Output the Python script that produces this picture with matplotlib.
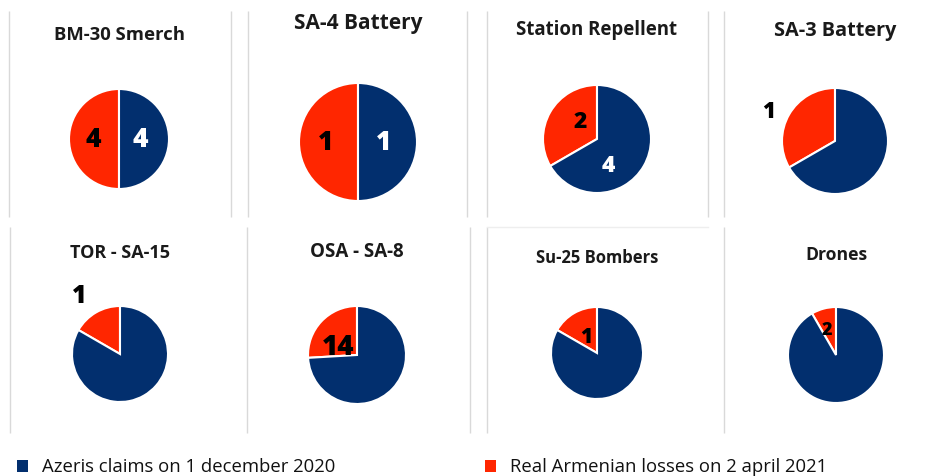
import numpy as np
import matplotlib
matplotlib.use("Agg")
import matplotlib.pyplot as plt
from matplotlib.patches import Rectangle

plt.rcParams['font.family'] = ['Open Sans', 'DejaVu Sans']

# ---- data ----
categories = ["BM-30 Smerch", "SA-4 Battery", "Station Repellent", "SA-3 Battery",
              "TOR - SA-15", "OSA - SA-8", "Su-25 Bombers", "Drones"]
azeri_claims = [4, 1, 4, 2, 5, 40, 5, 22]
real_losses = [4, 1, 2, 1, 1, 14, 1, 2]
show_azeri_label = [True, True, True, False, False, False, False, False]
series_names = ["Azeris claims on 1 december 2020", "Real Armenian losses on 2 april 2021"]

# ---- style / layout ----
BLUE = "#022f6e"
RED = "#ff2600"
GRID = "#d9d9d9"
W, H = 940, 477

centers = [(119, 140), (358, 143), (597, 140), (835, 142),
           (120, 355), (357, 356), (597, 354), (836, 356)]
radii = [50, 59, 54, 53, 48, 49, 46, 48]
title_y = [35, 24, 30, 31, 253, 252, 258, 255]
title_w = [130, 128, 161, 122, 100, 94, 122, 62]
red_dist = [0.52, 0.54, 0.45, 1.38, 1.48, 0.43, 0.44, 0.57]
red_shift = [0, 0, -17, 6, 5, 19, 3, 4]
blue_dist = [0.42, 0.44, 0.52]
blue_shift = [0, 0, -37]
num_size = [19, 19, 16.5, 16, 18, 20, 15, 13]
legend_w = [295, 317]

fig = plt.figure(figsize=(W / 100, H / 100), dpi=100)
ax = fig.add_axes([0, 0, 1, 1])
fig.canvas.draw()
renderer = fig.canvas.get_renderer()

def Y(y):
    return H - y

def fit_text(t, target):
    bb = t.get_window_extent(renderer)
    t.set_fontsize(t.get_fontsize() * target / bb.width)

for i, cat in enumerate(categories):
    cx, cy = centers[i]
    r = radii[i]
    vals = [real_losses[i], azeri_claims[i]]
    wedges, _ = ax.pie(vals, colors=[RED, BLUE], startangle=90, counterclock=True,
                       center=(cx, Y(cy)), radius=r,
                       wedgeprops=dict(edgecolor="white", linewidth=1.5))
    w = wedges[0]
    ang = np.deg2rad((w.theta1 + w.theta2) / 2 + red_shift[i])
    d = red_dist[i] * r
    ax.text(cx + d * np.cos(ang), Y(cy) + d * np.sin(ang), str(real_losses[i]),
            ha="center", va="center", fontsize=num_size[i], fontweight=800, color="black")
    if show_azeri_label[i]:
        w = wedges[1]
        ang = np.deg2rad((w.theta1 + w.theta2) / 2 + blue_shift[i])
        d = blue_dist[i] * r
        ax.text(cx + d * np.cos(ang), Y(cy) + d * np.sin(ang), str(azeri_claims[i]),
                ha="center", va="center", fontsize=num_size[i], fontweight=800, color="white")
    t = ax.text(cx, Y(title_y[i]), cat, ha="center", va="center", fontsize=12,
                fontweight="bold", color="#1a1a1a")
    fit_text(t, title_w[i])

# panel separators
row1_x = [9, 231, 248, 467, 487, 708, 724]
row2_x = [10, 247, 470, 487, 724]
for x in row1_x:
    ax.plot([x, x], [Y(12), Y(218)], color=GRID, lw=1, solid_capstyle="butt")
for x in row2_x:
    ax.plot([x, x], [Y(228), Y(434)], color=GRID, lw=1, solid_capstyle="butt")
ax.plot([487, 708], [Y(228), Y(228)], color="#eeeeee", lw=1)

# legend
leg_x = [17, 485]
for k, name in enumerate(series_names):
    col = BLUE if k == 0 else RED
    ax.add_patch(Rectangle((leg_x[k], Y(473)), 11, 12, facecolor=col, edgecolor="none"))
    t = ax.text(leg_x[k] + 25, Y(467), name, ha="left", va="center", fontsize=12.5,
                color="#111111")
    fit_text(t, legend_w[k])

ax.set_xlim(0, W)
ax.set_ylim(0, H)
ax.set_aspect("equal")
ax.axis("off")
fig.savefig("out.png", dpi=100, facecolor="white")
